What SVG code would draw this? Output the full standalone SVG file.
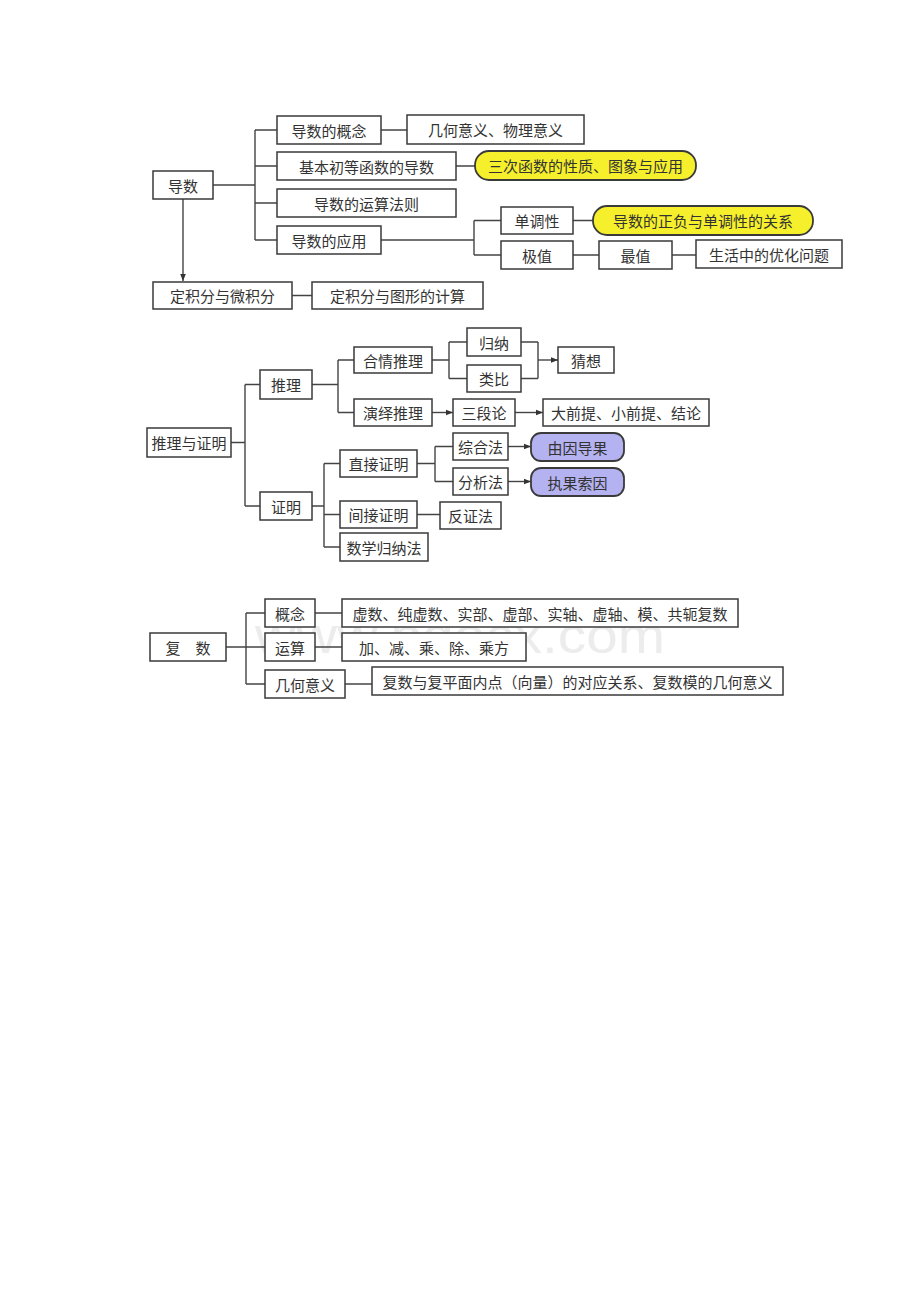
<svg xmlns="http://www.w3.org/2000/svg" width="920" height="1302" viewBox="0 0 920 1302">
<style>
.b{fill:#fff;stroke:#3a3a3a;stroke-width:1.5}
.y{fill:#f6f02c;stroke:#3a3a3a;stroke-width:1.8}
.p{fill:#b4b2f0;stroke:#3a3a3a;stroke-width:1.8}
.t{font-family:"Noto Sans CJK SC","Noto Sans CJK JP",sans-serif;font-size:15px;fill:#333;text-anchor:middle;dominant-baseline:central}
.c{fill:none;stroke:#444;stroke-width:1.4}
.wm{font-family:"Liberation Sans",sans-serif;font-size:50px;fill:#ececec}
</style>
<defs>
<marker id="ar" viewBox="0 0 10 10" refX="10" refY="5" markerWidth="7" markerHeight="7" orient="auto" markerUnits="userSpaceOnUse"><path d="M0,1 L10,5 L0,9 z" fill="#333"/></marker>
</defs>
<rect width="920" height="1302" fill="#fff"/>
<text class="wm" x="255" y="653" textLength="410" lengthAdjust="spacingAndGlyphs">www.bdocx.com</text>
<g id="connectors">
<path class="c" d="M213,185 H255 M255,130 V240 M255,130 H277 M255,166 H277 M255,203 H277 M255,240 H277"/>
<path class="c" d="M381,130 H407 M456,166 H475 M381,240 H474 M474,220.5 V255 M474,220.5 H501 M474,255 H501 M573,220.5 H593 M573,255 H599 M672,255 H696 M292,295.5 H312"/>
<path class="c" d="M183,199 V281" marker-end="url(#ar)"/>
<path class="c" d="M231,442.5 H245 M245,384.5 V506 M245,384.5 H260 M245,506 H260 M312,384.5 H338 M338,360 V412.5 M338,360 H354 M338,412.5 H354 M432,360 H449 M449,342 V378.5 M449,342 H467 M449,378.5 H467 M521,342 H538 M521,378.5 H538 M538,342 V378.5"/>
<path class="c" d="M538,360 H558" marker-end="url(#ar)"/>
<path class="c" d="M432,412.5 H453" marker-end="url(#ar)"/>
<path class="c" d="M515,412.5 H543" marker-end="url(#ar)"/>
<path class="c" d="M312,506 H324 M324,463.5 V547 M324,463.5 H340 M324,514.5 H340 M324,547 H340 M417,463.5 H435 M435,446.5 V481.5 M435,446.5 H453 M435,481.5 H453 M417,514.5 H440"/>
<path class="c" d="M508,446.5 H531" marker-end="url(#ar)"/>
<path class="c" d="M508,481.5 H531" marker-end="url(#ar)"/>
<path class="c" d="M226,647 H246 M246,613 V684 M246,613 H265 M246,647 H265 M246,684 H265 M315,613 H342 M315,647 H342 M345,684 H372"/>
</g>
<g id="n-daoshu"><rect class="b" x="153" y="171" width="60" height="28"/><text class="t" x="183" y="185">导数</text></g>
<g id="n-gainian"><rect class="b" x="277" y="116" width="104" height="28"/><text class="t" x="329" y="130">导数的概念</text></g>
<g id="n-jihe"><rect class="b" x="407" y="115" width="177" height="29"/><text class="t" x="495.5" y="129.5">几何意义、物理意义</text></g>
<g id="n-jiben"><rect class="b" x="277" y="152" width="179" height="28"/><text class="t" x="366.5" y="166">基本初等函数的导数</text></g>
<g id="n-sanci"><rect class="y" x="475" y="151" width="221" height="29" rx="14"/><text class="t" x="585.5" y="165.5">三次函数的性质、图象与应用</text></g>
<g id="n-yunsuan"><rect class="b" x="277" y="189" width="179" height="28"/><text class="t" x="366.5" y="203">导数的运算法则</text></g>
<g id="n-yingyong"><rect class="b" x="277" y="226" width="104" height="28"/><text class="t" x="329" y="240">导数的应用</text></g>
<g id="n-dandiao"><rect class="b" x="501" y="207" width="72" height="27"/><text class="t" x="537" y="220.5">单调性</text></g>
<g id="n-zhengfu"><rect class="y" x="593" y="206" width="220" height="29" rx="14"/><text class="t" x="703" y="220.5">导数的正负与单调性的关系</text></g>
<g id="n-jizhi"><rect class="b" x="501" y="241" width="72" height="28"/><text class="t" x="537" y="255">极值</text></g>
<g id="n-zuizhi"><rect class="b" x="599" y="241" width="73" height="28"/><text class="t" x="635.5" y="255">最值</text></g>
<g id="n-shenghuo"><rect class="b" x="696" y="240" width="146" height="28"/><text class="t" x="769" y="254">生活中的优化问题</text></g>
<g id="n-dingjifen"><rect class="b" x="153" y="282" width="139" height="27"/><text class="t" x="222.5" y="295.5">定积分与微积分</text></g>
<g id="n-tuxing"><rect class="b" x="312" y="282" width="171" height="27"/><text class="t" x="397.5" y="295.5">定积分与图形的计算</text></g>
<g id="n-tuili-zm"><rect class="b" x="147" y="428" width="84" height="29"/><text class="t" x="189" y="442.5">推理与证明</text></g>
<g id="n-tuili"><rect class="b" x="260" y="370" width="52" height="29"/><text class="t" x="286" y="384.5">推理</text></g>
<g id="n-zhengming"><rect class="b" x="260" y="492" width="52" height="28"/><text class="t" x="286" y="506">证明</text></g>
<g id="n-heqing"><rect class="b" x="354" y="347" width="78" height="26"/><text class="t" x="393" y="360">合情推理</text></g>
<g id="n-yanyi"><rect class="b" x="354" y="399" width="78" height="27"/><text class="t" x="393" y="412.5">演绎推理</text></g>
<g id="n-guina"><rect class="b" x="467" y="328" width="54" height="28"/><text class="t" x="494" y="342">归纳</text></g>
<g id="n-leibi"><rect class="b" x="467" y="365" width="54" height="27"/><text class="t" x="494" y="378.5">类比</text></g>
<g id="n-caixiang"><rect class="b" x="558" y="347" width="56" height="26"/><text class="t" x="586" y="360">猜想</text></g>
<g id="n-sanduan"><rect class="b" x="453" y="399" width="62" height="27"/><text class="t" x="484" y="412.5">三段论</text></g>
<g id="n-daqianti"><rect class="b" x="543" y="399" width="166" height="27"/><text class="t" x="626" y="412.5">大前提、小前提、结论</text></g>
<g id="n-zhijie"><rect class="b" x="340" y="450" width="77" height="27"/><text class="t" x="378.5" y="463.5">直接证明</text></g>
<g id="n-jianjie"><rect class="b" x="340" y="501" width="77" height="27"/><text class="t" x="378.5" y="514.5">间接证明</text></g>
<g id="n-shuxue"><rect class="b" x="340" y="533" width="88" height="28"/><text class="t" x="384" y="547">数学归纳法</text></g>
<g id="n-zonghe"><rect class="b" x="453" y="433" width="55" height="27"/><text class="t" x="480.5" y="446.5">综合法</text></g>
<g id="n-fenxi"><rect class="b" x="453" y="468" width="55" height="27"/><text class="t" x="480.5" y="481.5">分析法</text></g>
<g id="n-youyin"><rect class="p" x="531" y="433" width="93" height="28" rx="10"/><text class="t" x="577.5" y="447">由因导果</text></g>
<g id="n-zhiguo"><rect class="p" x="531" y="468" width="93" height="28" rx="10"/><text class="t" x="577.5" y="482">执果索因</text></g>
<g id="n-fanzheng"><rect class="b" x="440" y="502" width="61" height="27"/><text class="t" x="470.5" y="515.5">反证法</text></g>
<g id="n-fushu"><rect class="b" x="150" y="633" width="76" height="28"/><text class="t" x="188" y="647">复　数</text></g>
<g id="n-gn"><rect class="b" x="265" y="599" width="50" height="28"/><text class="t" x="290" y="613">概念</text></g>
<g id="n-ys"><rect class="b" x="265" y="633" width="50" height="28"/><text class="t" x="290" y="647">运算</text></g>
<g id="n-jhyy"><rect class="b" x="265" y="670" width="80" height="28"/><text class="t" x="305" y="684">几何意义</text></g>
<g id="n-xushu"><rect class="b" x="342" y="599" width="396" height="28"/><text class="t" x="540" y="613">虚数、纯虚数、实部、虚部、实轴、虚轴、模、共轭复数</text></g>
<g id="n-jia"><rect class="b" x="342" y="633" width="184" height="28"/><text class="t" x="434" y="647">加、减、乘、除、乘方</text></g>
<g id="n-fupingmian"><rect class="b" x="372" y="667" width="411" height="28"/><text class="t" x="577.5" y="681">复数与复平面内点（向量）的对应关系、复数模的几何意义</text></g>
</svg>
